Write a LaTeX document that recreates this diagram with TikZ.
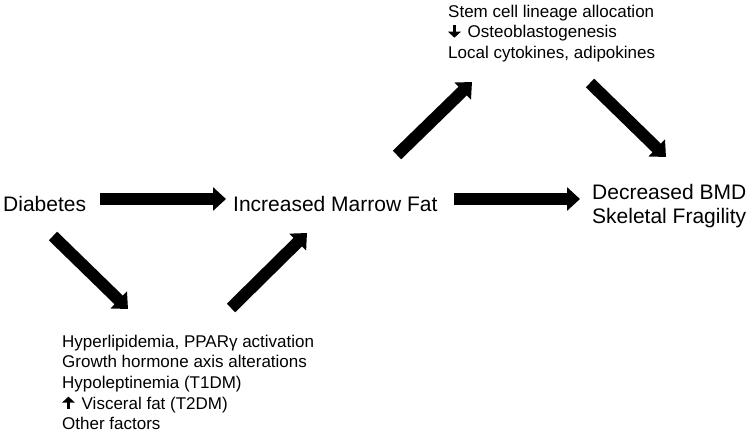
\documentclass[tikz,border=0pt]{standalone}
\usepackage{fontspec}
\setmainfont{Liberation Sans}
\usetikzlibrary{arrows.meta}
\newcommand{\uparr}{\tikz[baseline=0pt,x=1pt,y=1pt]\draw[line width=3.6pt,-{Triangle[length=6pt,width=12.5pt]}] (6,0) -- (6,12.5);\hspace{7pt}}
\newcommand{\downarr}{\tikz[baseline=0pt,x=1pt,y=1pt]\draw[line width=3.6pt,-{Triangle[length=6pt,width=12.5pt]}] (6,12.5) -- (6,0);\hspace{7pt}}
\begin{document}
\begin{tikzpicture}[x=1pt,y=-1pt,
  big/.style={inner sep=0pt, anchor=base west, font=\fontsize{21}{24}\selectfont, align=left},
  small/.style={inner sep=0pt, anchor=base west, font=\fontsize{17}{20.7}\selectfont, align=left},
  fatarrow/.style={line width=12pt, -{Triangle[length=13pt,width=23pt]}}]
\useasboundingbox (0,0) rectangle (756,434);
\node[big] (diabetes) at (3,211) {Diabetes};
\node[big] (marrow) at (233,211) {Increased Marrow Fat};
\node[big] (bmd) at (592,223) {Decreased BMD\\Skeletal Fragility};
\node[small] (top) at (448,58.4) {Stem cell lineage allocation\\\downarr Osteoblastogenesis\\Local cytokines, adipokines};
\node[small] (bottom) at (62,429.8) {Hyperlipidemia, PPARγ activation\\Growth hormone axis alterations\\Hypoleptinemia (T1DM)\\\uparr Visceral fat (T2DM)\\Other factors};
\coordinate (a1s) at (100,199); \coordinate (a1e) at (226,199);
\coordinate (a2s) at (454,199); \coordinate (a2e) at (580,199);
\coordinate (d1s) at (53,236); \coordinate (d1e) at (128,309);
\coordinate (d2s) at (231,308); \coordinate (d2e) at (307,233);
\coordinate (d3s) at (397,155); \coordinate (d3e) at (472,82);
\coordinate (d4s) at (590,83); \coordinate (d4e) at (666,157);
\draw[fatarrow] (a1s) -- (a1e);
\draw[fatarrow] (a2s) -- (a2e);
\draw[fatarrow] (d1s) -- (d1e);
\draw[fatarrow] (d2s) -- (d2e);
\draw[fatarrow] (d3s) -- (d3e);
\draw[fatarrow] (d4s) -- (d4e);
\end{tikzpicture}
\end{document}
